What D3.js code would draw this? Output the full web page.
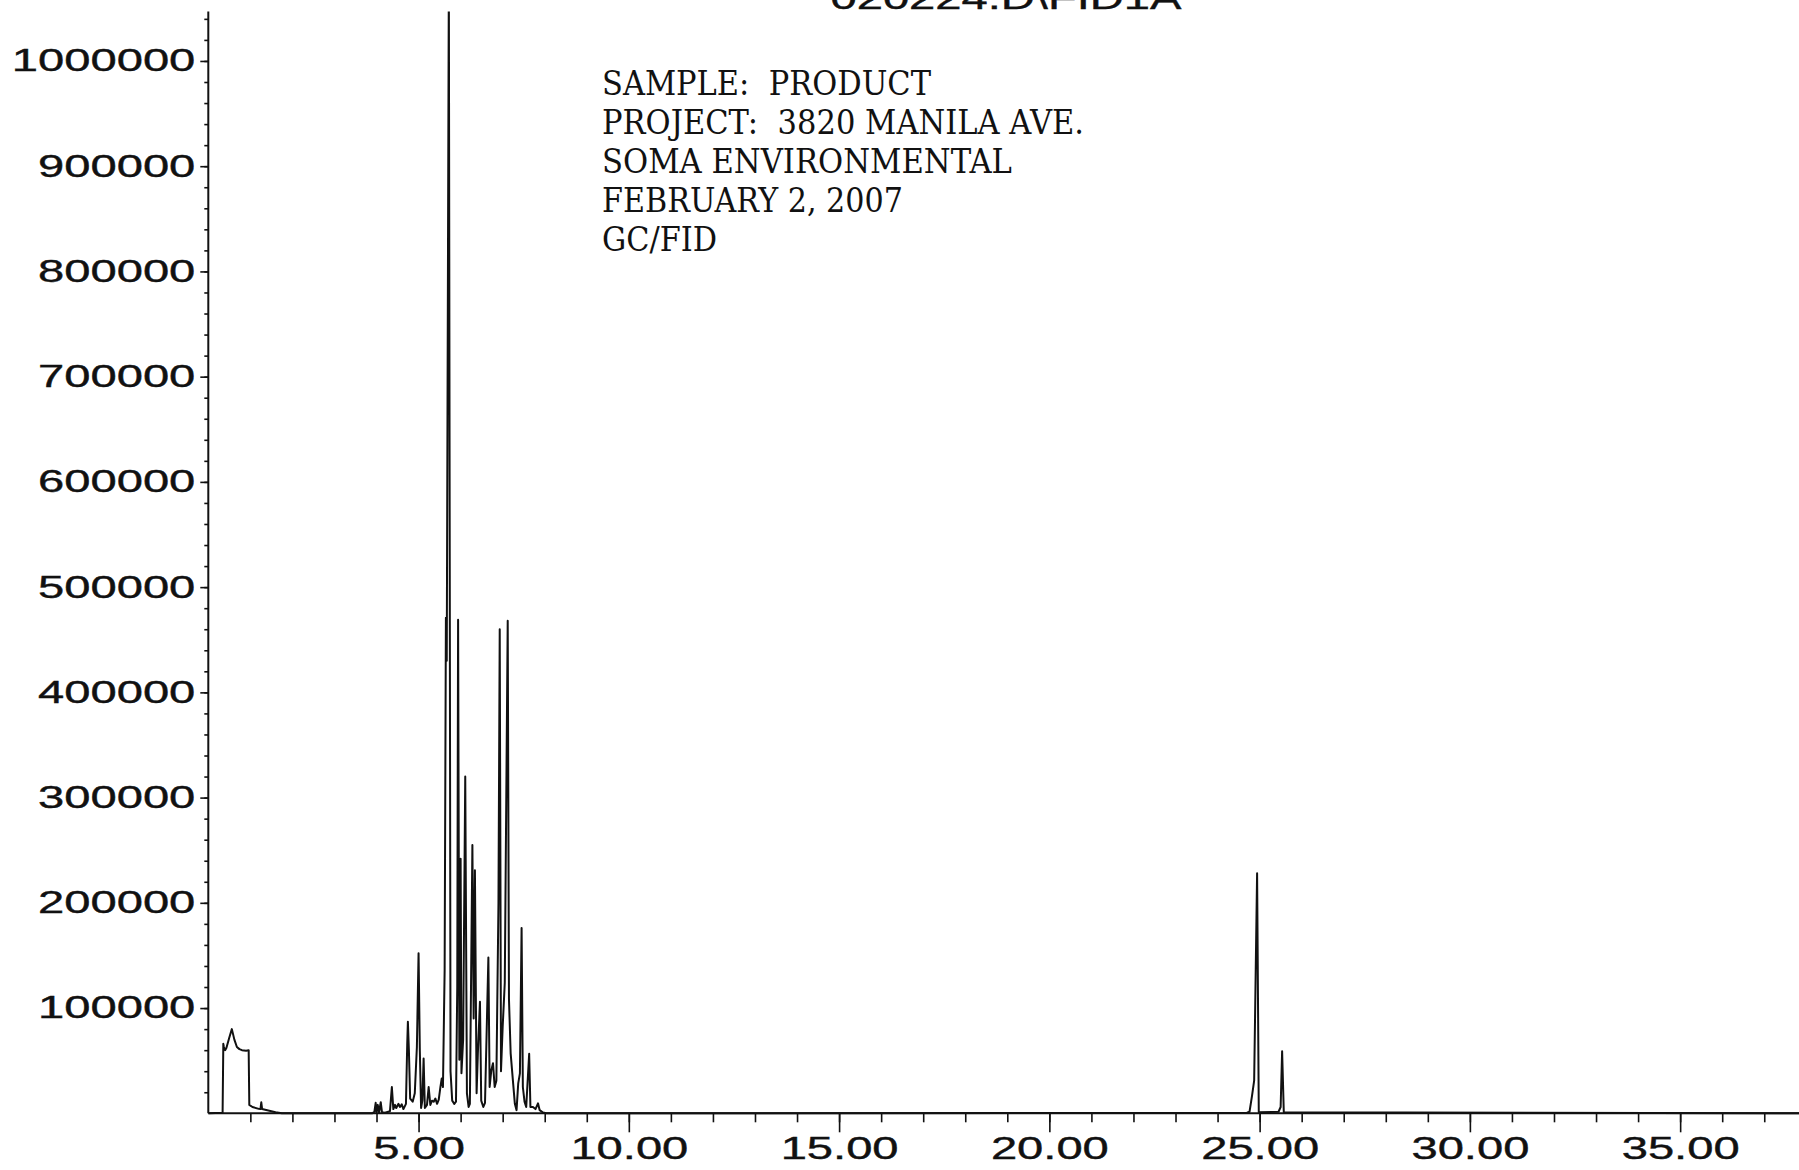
<!DOCTYPE html>
<html>
<head>
<meta charset="utf-8">
<script src="https://cdn.jsdelivr.net/npm/d3@7"></script>
<style>
  html, body { margin: 0; padding: 0; background: #fff; }
  svg { display: block; }
  .notes text { white-space: pre; }
</style>
</head>
<body>
<svg id="chart" width="1799" height="1170"></svg>
<script>
// FID signal: retention time (min) and detector response (counts)
const retentionTimes = [
  0.00, 0.34, 0.357, 0.37, 0.40, 0.43, 0.50, 0.56, 0.62, 0.68, 0.74, 0.80, 0.90, 0.96, 0.975,
  1.05, 1.20, 1.24, 1.26, 1.28, 1.45, 1.60, 1.75,
  3.90, 3.95, 3.98, 4.00, 4.03, 4.06, 4.10, 4.13, 4.20, 4.32, 4.365, 4.40, 4.44, 4.47, 4.52,
  4.56, 4.60, 4.64, 4.70, 4.73, 4.746, 4.77, 4.80, 4.86, 4.91, 4.96, 5.00, 5.03, 5.06, 5.09,
  5.12, 5.15, 5.20, 5.24, 5.28, 5.32, 5.36, 5.40, 5.44, 5.48, 5.52, 5.55, 5.58, 5.62, 5.65,
  5.67, 5.72, 5.76, 5.80, 5.85, 5.89, 5.92, 5.94, 5.97, 6.00, 6.02, 6.06, 6.11, 6.15, 6.19,
  6.22, 6.28, 6.31, 6.34, 6.38, 6.41, 6.46, 6.49, 6.54, 6.58, 6.66, 6.69, 6.73, 6.77, 6.81,
  6.85, 6.90, 6.93, 6.96, 7.00, 7.05, 7.12, 7.15, 7.19, 7.25, 7.29, 7.33, 7.37, 7.41, 7.45,
  7.48, 7.52, 7.56, 7.63, 7.66, 7.72, 7.78, 7.84, 7.88, 7.96, 8.04,
  24.70, 24.76, 24.82, 24.87, 24.94, 24.98, 25.45, 25.50, 25.535, 25.575, 37.90
];
const responses = [
  0, 500, 66000, 63000, 60000, 62000, 72000, 80000, 70000, 63000, 61000, 60000, 59500, 60000, 8000,
  6000, 4200, 4000, 10500, 4000, 2500, 1000, 0,
  0, 1500, 10000, 1000, 8000, 500, 10500, 1000, 500, 2000, 25000, 4000, 8000, 5000, 9000,
  6000, 8500, 4000, 9000, 65000, 87000, 60000, 14000, 11000, 19000, 63000, 152000, 60000, 5000, 12000,
  52000, 5000, 8000, 25000, 8000, 12000, 11000, 14000, 9000, 13000, 25000, 33000, 25000, 136000, 471000,
  430000, 1080000, 40000, 12000, 9000, 11000, 120000, 469000, 51000, 242000, 38000, 70000, 320000, 19000, 6000,
  9000, 255000, 90000, 231000, 19000, 57000, 106000, 12000, 6000, 10000, 148000, 25000, 41000, 47500, 25000,
  31000, 200000, 460000, 40000, 82000, 124000, 468000, 108000, 57000, 28000, 9000, 3000, 28500, 38000, 176000,
  25000, 11000, 6000, 56500, 6000, 6000, 4000, 9500, 3000, 700, 0,
  500, 1500, 16800, 31000, 228000, 1000, 1500, 6000, 59000, 1000, 0
];

// Axis ticks
const xMinorTicks = d3.range(1, 38);
const xMajorTicks = [5, 10, 15, 20, 25, 30, 35];
const yMajorTicks = [100000, 200000, 300000, 400000, 500000, 600000, 700000, 800000, 900000, 1000000];
const yMinorTicks = d3.range(20000, 1040001, 20000);

// Header and sample notes
const titleText = "020224.D\\FID1A";
const sampleNotes = [
  "SAMPLE:  PRODUCT",
  "PROJECT:  3820 MANILA AVE.",
  "SOMA ENVIRONMENTAL",
  "FEBRUARY 2, 2007",
  "GC/FID"
];

const signal = retentionTimes.map((t, i) => ({ t, v: responses[i] }));

const svg = d3.select("#chart");
const W = 1799, H = 1170;
const plotLeft = 208.3, plotBottom = 1113.3, plotTop = 11.5;

const x = d3.scaleLinear().domain([0, 37.85]).range([plotLeft, W + 1]);
const y = d3.scaleLinear().domain([0, 1047000]).range([plotBottom, plotTop]);

const axisFont = "'Liberation Sans', Arial, Helvetica, sans-serif";
const widen = 1.52;

function stretchText(sel, k) {
  sel.each(function () {
    const w = this.getComputedTextLength();
    d3.select(this).attr("textLength", w * k).attr("lengthAdjust", "spacingAndGlyphs");
  });
}

svg.append("rect").attr("width", W).attr("height", H).attr("fill", "#fff");

svg.append("defs").append("clipPath").attr("id", "plot-clip")
  .append("rect")
  .attr("x", plotLeft).attr("y", plotTop)
  .attr("width", W - plotLeft + 2).attr("height", plotBottom - plotTop + 10);

// Title, mostly above the page edge
const title = svg.append("text")
  .attr("x", 1006).attr("y", 9)
  .attr("text-anchor", "middle")
  .attr("font-family", axisFont)
  .attr("font-size", 31)
  .attr("fill", "#111")
  .attr("stroke", "#111").attr("stroke-width", 0.4)
  .text(titleText);
stretchText(title, widen);

// X axis: minor ticks every minute, labelled major ticks every 5 minutes
const gxMinor = svg.append("g")
  .attr("transform", `translate(0,${plotBottom})`)
  .call(d3.axisBottom(x).tickValues(xMinorTicks).tickSize(9).tickFormat(""));
const gxMajor = svg.append("g")
  .attr("transform", `translate(0,${plotBottom})`)
  .call(d3.axisBottom(x).tickValues(xMajorTicks).tickSize(19).tickPadding(5).tickFormat(d3.format(".2f")));

// Y axis: minor ticks every 20000, labelled major ticks every 100000
const gyMinor = svg.append("g")
  .attr("transform", `translate(${plotLeft},0)`)
  .call(d3.axisLeft(y).tickValues(yMinorTicks).tickSize(4).tickFormat(""));
const gyMajor = svg.append("g")
  .attr("transform", `translate(${plotLeft},0)`)
  .call(d3.axisLeft(y).tickValues(yMajorTicks).tickSize(8).tickPadding(5).tickFormat(d3.format("d")));

[gxMinor, gxMajor, gyMinor, gyMajor].forEach(g => {
  g.select(".domain").attr("stroke", "#111").attr("stroke-width", 2);
  g.selectAll(".tick line").attr("stroke", "#111").attr("stroke-width", 1.6);
  g.selectAll(".tick text")
    .attr("font-family", axisFont)
    .attr("font-size", 31)
    .attr("fill", "#111")
    .attr("stroke", "#111")
    .attr("stroke-width", 0.4);
});
gxMajor.select(".domain").attr("d", `M${plotLeft},0H${W + 2}`);
gxMinor.select(".domain").remove();
gyMinor.select(".domain").remove();
gyMajor.select(".domain").attr("d", `M0,${plotBottom}V${plotTop}`);
stretchText(gxMajor.selectAll(".tick text"), widen);
stretchText(gyMajor.selectAll(".tick text"), widen);

// Chromatogram trace
const line = d3.line().x(d => x(d.t)).y(d => y(d.v));
svg.append("path")
  .datum(signal)
  .attr("clip-path", "url(#plot-clip)")
  .attr("d", line)
  .attr("fill", "none")
  .attr("stroke", "#111")
  .attr("stroke-width", 2)
  .attr("stroke-linejoin", "round");

// Sample notes block
const notes = svg.append("g").attr("class", "notes")
  .attr("font-family", "'DejaVu Serif', 'Liberation Serif', serif")
  .attr("font-size", 33)
  .attr("fill", "#111");
const noteWidths = [329, 482, 410, 301, 115];
notes.selectAll("text")
  .data(sampleNotes)
  .join("text")
  .attr("x", 602)
  .attr("y", (d, i) => 95 + i * 39)
  .attr("textLength", (d, i) => noteWidths[i])
  .attr("lengthAdjust", "spacingAndGlyphs")
  .text(d => d);
</script>
</body>
</html>
